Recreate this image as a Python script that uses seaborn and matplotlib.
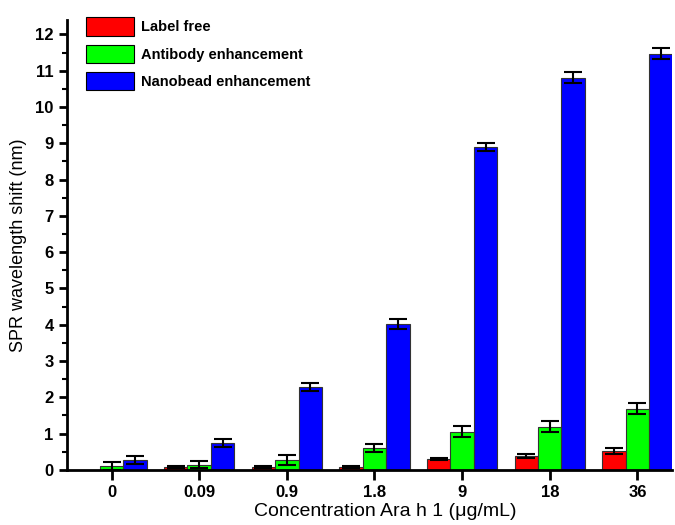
import matplotlib
matplotlib.use("Agg")
import matplotlib.pyplot as plt
import seaborn as sns
import pandas as pd
import numpy as np
from matplotlib.ticker import MultipleLocator

concentrations = ["0", "0.09", "0.9", "1.8", "9", "18", "36"]
series = ["Label free", "Antibody enhancement", "Nanobead enhancement"]
label_free = [0.0, 0.07, 0.07, 0.08, 0.30, 0.39, 0.52]
label_free_err = [0.0, 0.03, 0.03, 0.03, 0.04, 0.06, 0.09]
antibody = [0.11, 0.14, 0.28, 0.60, 1.05, 1.19, 1.69]
antibody_err = [0.12, 0.10, 0.14, 0.12, 0.15, 0.15, 0.15]
nanobead = [0.26, 0.73, 2.29, 4.02, 8.89, 10.81, 11.47]
nanobead_err = [0.11, 0.11, 0.11, 0.14, 0.11, 0.15, 0.15]
colors = ["#ff0000", "#00ff00", "#0000ff"]

values = [label_free, antibody, nanobead]
errors = [label_free_err, antibody_err, nanobead_err]
rows = []
for s, v, e in zip(series, values, errors):
    for c, vi, ei in zip(concentrations, v, e):
        rows.append({"conc": c, "series": s, "value": vi, "err": ei})
df = pd.DataFrame(rows)

sns.set_style("ticks")
plt.rcParams["font.family"] = ["Liberation Sans", "DejaVu Sans"]
plt.rcParams["text.color"] = "black"
plt.rcParams["axes.labelcolor"] = "black"
plt.rcParams["xtick.color"] = "black"
plt.rcParams["ytick.color"] = "black"
plt.rcParams["axes.edgecolor"] = "black"

fig = plt.figure(figsize=(6.75, 5.25), dpi=100)
ax = fig.add_axes([0.099, 0.105, 0.896, 0.857])

sns.barplot(data=df, x="conc", y="value", hue="series", order=concentrations,
            hue_order=series, palette=colors, errorbar=None, width=0.8,
            edgecolor="#333333", linewidth=0.8, ax=ax, saturation=1)

# error bars from patch positions
for cont, s in zip(ax.containers, series):
    sub = df[df["series"] == s].set_index("conc").loc[concentrations]
    xs = [p.get_x() + p.get_width() / 2 for p in cont.patches]
    for p in cont.patches:
        if p.get_height() == 0:
            p.set_visible(False)
    mask = sub["value"].values > 0
    ax.errorbar(np.array(xs)[mask], sub["value"].values[mask],
                yerr=sub["err"].values[mask], fmt="none",
                ecolor="black", elinewidth=1.5, capsize=6.5, capthick=1.5, zorder=5)

ax.set_xlim(-0.51, 6.39)
ax.set_ylim(0, 12.4)
ax.yaxis.set_major_locator(MultipleLocator(1))
ax.yaxis.set_minor_locator(MultipleLocator(0.5))
for sp in ["top", "right"]:
    ax.spines[sp].set_visible(False)
for sp in ["left", "bottom"]:
    ax.spines[sp].set_linewidth(2)
ax.tick_params(axis="both", which="major", direction="out", length=6, width=2,
               labelsize=12)
ax.tick_params(axis="x", which="major", length=7, pad=4)
ax.tick_params(axis="y", which="minor", direction="out", length=3.5, width=1.5)
for lab in ax.get_xticklabels() + ax.get_yticklabels():
    lab.set_fontweight("bold")
ax.set_xlabel("Concentration Ara h 1 (μg/mL)", fontsize=14)
ax.xaxis.set_label_coords(0.526, -0.074)
ax.set_ylabel("SPR wavelength shift (nm)", fontsize=13, labelpad=6)

leg = ax.legend(loc="upper left", bbox_to_anchor=(0.01, 1.035), frameon=False,
                handlelength=3.3, handleheight=1.55, labelspacing=0.62,
                handletextpad=0.5, prop={"weight": "bold", "size": 10.5})
for h in leg.legend_handles:
    h.set_edgecolor("black")

fig.savefig("out.png", dpi=100)
